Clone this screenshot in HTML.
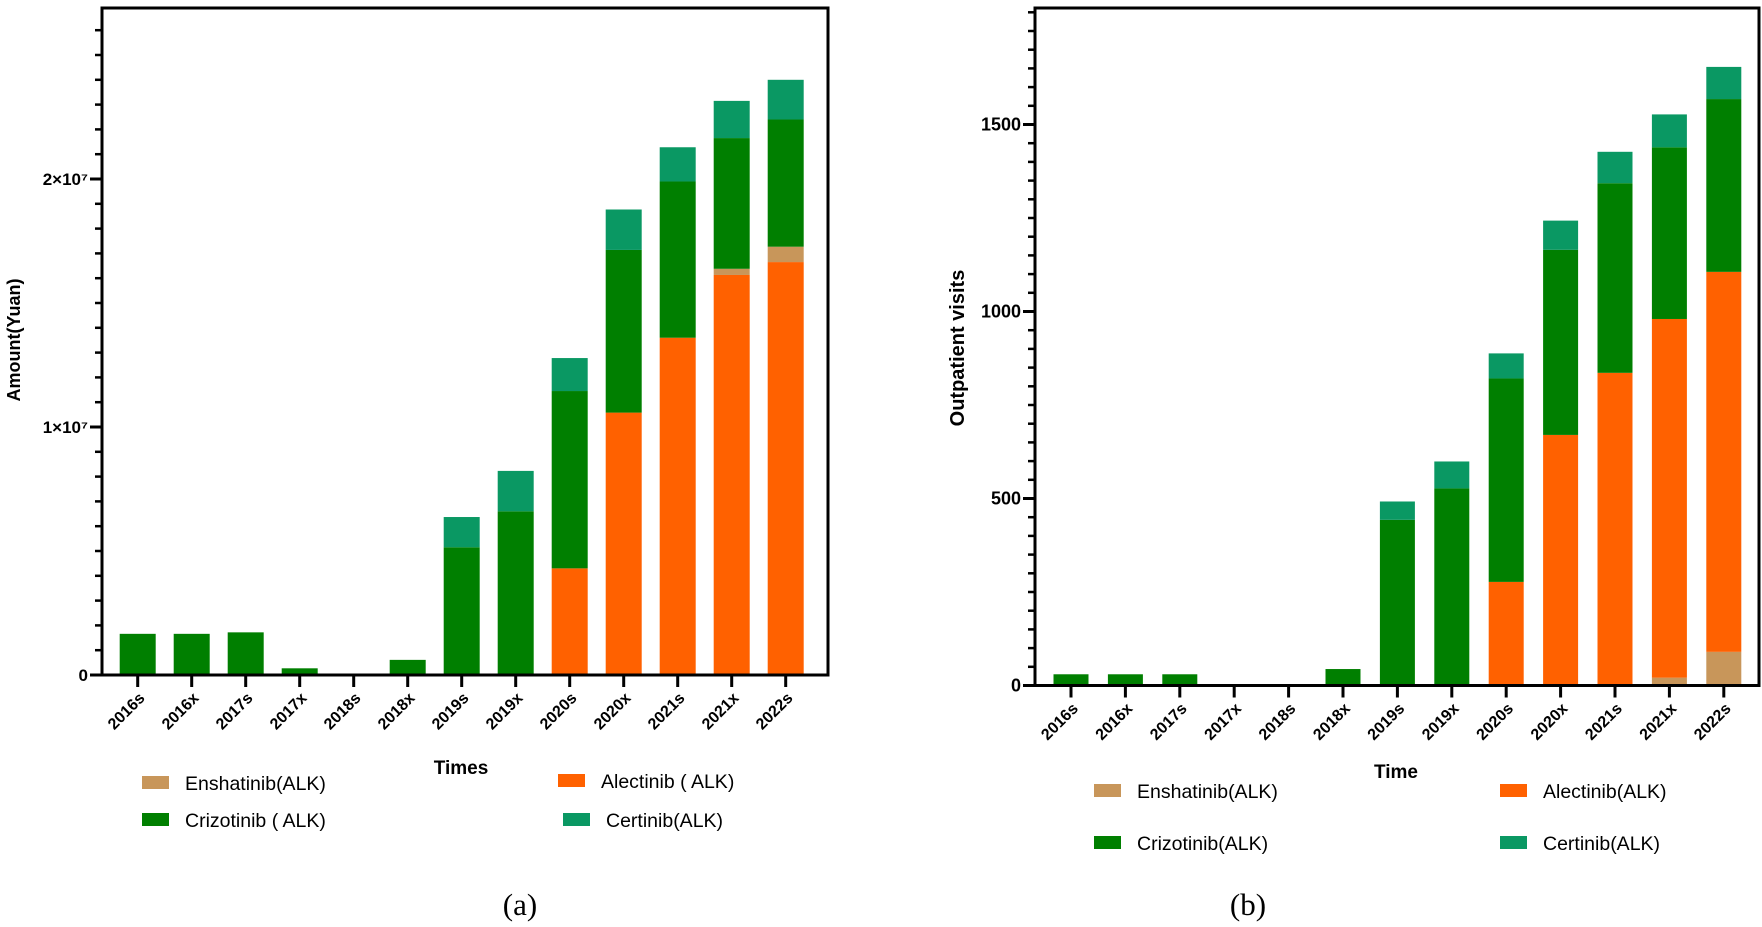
<!DOCTYPE html>
<html><head><meta charset="utf-8"><style>
body{margin:0;background:#fff;}
svg{display:block;font-family:"Liberation Sans",sans-serif;}
</style></head><body>
<svg id="svg" width="1762" height="927" viewBox="0 0 1762 927"></svg>
<script>
const categories=["2016s","2016x","2017s","2017x","2018s","2018x","2019s","2019x","2020s","2020x","2021s","2021x","2022s"];
// Chart (a) amounts in yuan (stack segments)
const aAlectinib=[0,0,0,0,0,0,0,0,4.3e6,10.58e6,13.6e6,16.13e6,16.65e6];
const aEnshatinib=[0,0,0,0,0,0,0,0,0,0,0,0.25e6,0.62e6];
const aCrizotinib=[1.66e6,1.66e6,1.72e6,0.27e6,0,0.61e6,5.15e6,6.6e6,7.15e6,6.56e6,6.3e6,5.27e6,5.13e6];
const aCertinib=[0,0,0,0,0,0,1.22e6,1.63e6,1.33e6,1.63e6,1.38e6,1.5e6,1.6e6];
const aTicks=[0,1e7,2e7];
const aTickLabels=["0","1×10⁷","2×10⁷"];
// Chart (b) outpatient visits
const bEnshatinib=[0,0,0,0,0,0,0,0,0,0,0,21,90];
const bAlectinib=[0,0,0,0,0,0,0,0,277,670,836,959,1016];
const bCrizotinib=[30,30,30,0,0,44,443,527,544,495,507,459,462];
const bCertinib=[0,0,0,0,0,0,49,72,67,78,84,88,86];
const bTicks=[0,500,1000,1500];
const bTickLabels=["0","500","1000","1500"];

const C={ensh:"#c8965a",alec:"#ff6100",crizo:"#007f00",cert:"#0a9863"};
const NS="http://www.w3.org/2000/svg";
const svg=document.getElementById('svg');
function mk(tag,attrs,parent){const e=document.createElementNS(NS,tag);for(const k in attrs)e.setAttribute(k,attrs[k]);(parent||svg).appendChild(e);return e;}

function chart(o){
  const g=mk('g',{});
  
  
  const y=v=>o.base-v*o.k;
  const x=i=>o.first+i*o.step;
  categories.forEach((c,i)=>{
    let acc=0;
    o.series.forEach(s=>{
      const v=s.vals[i];
      if(v>0){
        const r=mk('rect',{x:x(i)-o.bw/2,y:y(acc+v),width:o.bw,height:v*o.k,fill:s.color},g);
        
        
      }
      acc+=v;
    });
  });
  const fr=mk('path',{d:`M${o.x0} ${o.top} H${o.right} V${o.base} H${o.x0} Z`,fill:'none',stroke:'#000','stroke-width':3},g);
  
  
  for(let v=0;v<=o.max;v+=o.minor){
    const isMaj=o.ticks.some(t=>Math.abs(t-v)<1e-6);
    mk('line',{x1:o.x0-(isMaj?12:7),x2:o.x0,y1:y(v),y2:y(v),stroke:'#000','stroke-width':isMaj?3:2.5},g);
  }
  o.ticks.forEach((t,i)=>{
    const tx=mk('text',{x:o.x0-14,y:y(t)+6,'text-anchor':'end','font-size':o.tfs,'font-weight':'bold'},g);
    tx.textContent=o.labels[i];
    
    
  });
  categories.forEach((c,i)=>{
    mk('line',{x1:x(i),x2:x(i),y1:o.base,y2:o.base+12,stroke:'#000','stroke-width':3},g);
    const tx=mk('text',{x:x(i)+8,y:o.base+24,'text-anchor':'end','font-size':16,'font-weight':'bold',transform:`rotate(-45 ${x(i)+8} ${o.base+24})`},g);
    tx.textContent=c;
    
    
  });
  const yt=mk('text',{x:o.ytX,y:o.ytY,'text-anchor':'middle','font-size':o.yfs,'font-weight':'bold',transform:`rotate(-90 ${o.ytX} ${o.ytY})`},g);
  yt.textContent=o.ytitle;
  
  
  const xt=mk('text',{x:o.xtX,y:o.xtY,'text-anchor':'middle','font-size':19,'font-weight':'bold'},g);
  xt.textContent=o.xtitle;
  
  
  o.legend.forEach(l=>{
    const lg=mk('g',{},g);
    
    
    mk('rect',{x:l[0],y:l[1]-7,width:27,height:13,fill:l[3]},lg);
    const t=mk('text',{x:l[0]+43,y:l[1]+7,'font-size':19.5},lg);
    t.textContent=l[2];
  });
  const cap=mk('text',{x:o.capX,y:915,'text-anchor':'middle','font-size':31,'font-family':'Liberation Serif, serif'},g);
  cap.textContent=o.cap;
  
  
}

chart({name:'chart-a',x0:102,right:828,top:8,base:675,k:248/1e7,first:137.7,step:54,bw:36,
  max:2.6e7,minor:1e6,ticks:aTicks,labels:aTickLabels,tfs:17,yfs:18,
  series:[{key:'alectinib',vals:aAlectinib,color:C.alec},{key:'enshatinib',vals:aEnshatinib,color:C.ensh},{key:'crizotinib',vals:aCrizotinib,color:C.crizo},{key:'certinib',vals:aCertinib,color:C.cert}],
  ytitle:'Amount(Yuan)',ytX:20,ytY:340,xtitle:'Times',xtX:461,xtY:774,
  legend:[[142,783,'Enshatinib(ALK)',C.ensh],[558,781,'Alectinib ( ALK)',C.alec],[142,820,'Crizotinib ( ALK)',C.crizo],[563,820,'Certinib(ALK)',C.cert]],
  capX:520,cap:'(a)'});

chart({name:'chart-b',x0:1035,right:1759,top:8,base:685.5,k:187/500,first:1071,step:54.4,bw:35,
  max:1800,minor:50,ticks:bTicks,labels:bTickLabels,tfs:18,yfs:20,
  series:[{key:'enshatinib',vals:bEnshatinib,color:C.ensh},{key:'alectinib',vals:bAlectinib,color:C.alec},{key:'crizotinib',vals:bCrizotinib,color:C.crizo},{key:'certinib',vals:bCertinib,color:C.cert}],
  ytitle:'Outpatient visits',ytX:964,ytY:348,xtitle:'Time',xtX:1396,xtY:778,
  legend:[[1094,791,'Enshatinib(ALK)',C.ensh],[1500,791,'Alectinib(ALK)',C.alec],[1094,843,'Crizotinib(ALK)',C.crizo],[1500,843,'Certinib(ALK)',C.cert]],
  capX:1248,cap:'(b)'});
</script>
</body></html>
